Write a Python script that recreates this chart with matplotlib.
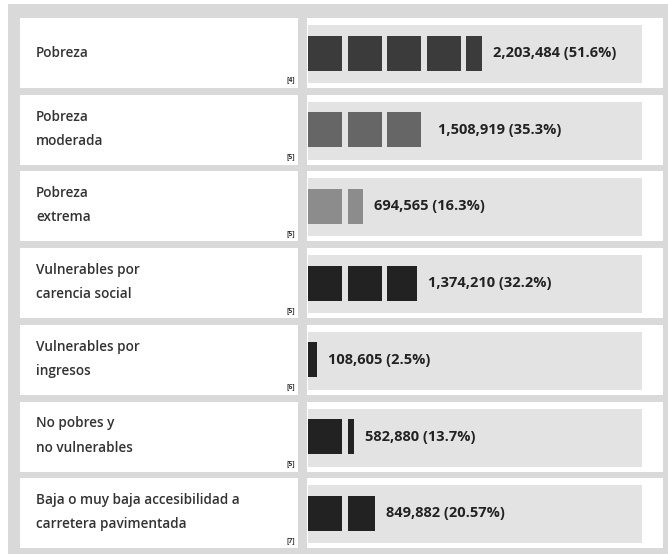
import matplotlib.pyplot as plt
from matplotlib.patches import Rectangle

# datos
labels = ['Pobreza', 'Pobreza\nmoderada', 'Pobreza\nextrema',
          'Vulnerables por\ncarencia social', 'Vulnerables por\ningresos',
          'No pobres y\nno vulnerables',
          'Baja o muy baja accesibilidad a\ncarretera pavimentada']
values = [2203484, 1508919, 694565, 1374210, 108605, 582880, 849882]
pcts = ['51.6%', '35.3%', '16.3%', '32.2%', '2.5%', '13.7%', '20.57%']
notes = ['[4]', '[5]', '[5]', '[5]', '[6]', '[5]', '[7]']
colors = ['#3b3b3b', '#666666', '#8c8c8c', '#222222', '#222222', '#222222', '#222222']

UNIT = 500000  # personas por bloque

W, H = 668, 554
fig = plt.figure(figsize=(W / 100, H / 100), dpi=100)
fig.patch.set_facecolor('white')

# fondo en pixeles
bg = fig.add_axes([0, 0, 1, 1])
bg.set_xlim(0, W)
bg.set_ylim(H, 0)
bg.axis('off')
bg.add_patch(Rectangle((8, 4), W - 8, H - 4, color='#d9d9d9', lw=0))

font = ['Open Sans', 'DejaVu Sans']
row_top0, row_step, row_h = 18, 76.7, 70

for i, lab in enumerate(labels):
    top = row_top0 + i * row_step
    bg.add_patch(Rectangle((20, top), 278, row_h, color='white', lw=0))
    bg.add_patch(Rectangle((307, top), 356, row_h, color='white', lw=0))
    bg.add_patch(Rectangle((308, top + 7), 334, row_h - 12, color='#e3e3e3', lw=0))
    lines = lab.split('\n')
    if len(lines) == 1:
        bg.text(36, top + row_h / 2, lines[0], va='center', ha='left',
                fontsize=9.8, fontweight='semibold', color='#333333', family=font)
    else:
        for k, ln in enumerate(lines):
            bg.text(36, top + 22 + k * 24, ln, va='center', ha='left',
                    fontsize=9.8, fontweight='semibold', color='#333333', family=font)
    bg.text(291, top + row_h - 8, notes[i], va='center', ha='center',
            fontsize=5, fontweight='bold', color='#333333', family=font)

# barras segmentadas
ax = fig.add_axes([308 / W, 0, 334 / W, 1])
ax.set_xlim(0, 334 / 39.5 * UNIT)
ax.set_ylim(H, 0)
ax.axis('off')
block = UNIT * 34 / 39.5

for i, v in enumerate(values):
    yc = row_top0 + i * row_step + row_h / 2
    n_full = int(v // UNIT)
    rem = v - n_full * UNIT
    lefts = [k * UNIT for k in range(n_full)]
    widths = [block] * n_full
    if rem > 0:
        lefts.append(n_full * UNIT)
        widths.append(min(rem, block))
    ax.barh([yc] * len(lefts), widths, left=lefts, height=35,
            color=colors[i], lw=0)
    end = lefts[-1] + widths[-1]
    ax.annotate(f'{v:,} ({pcts[i]})', (end, yc), xytext=(8, 0),
                textcoords='offset points', va='center', ha='left',
                fontsize=10.5, fontweight='bold', color='#222222', family=font)

fig.savefig('out.png', dpi=100)
